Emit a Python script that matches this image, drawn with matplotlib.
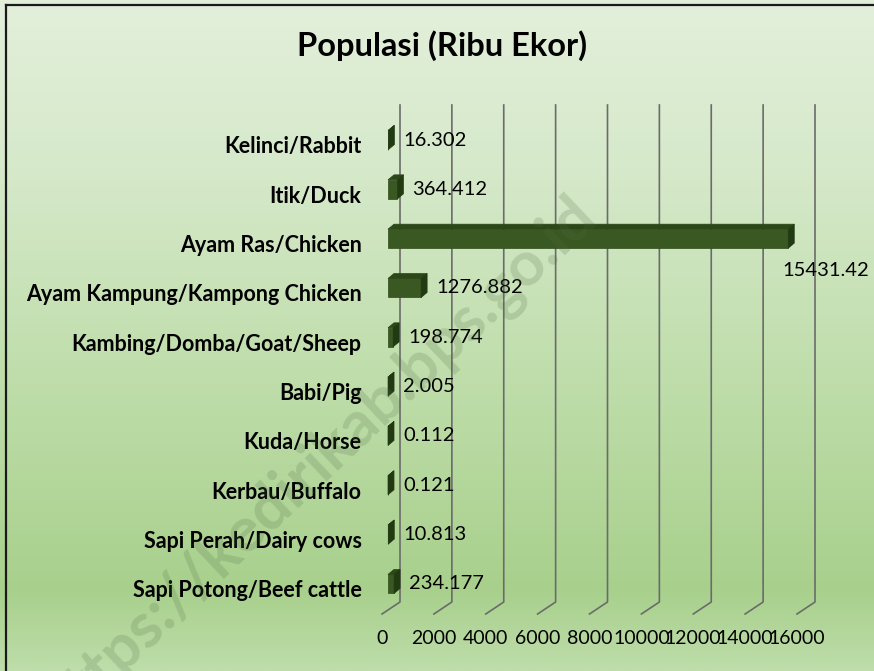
import numpy as np
import matplotlib.pyplot as plt
from matplotlib.patches import Polygon
from matplotlib.lines import Line2D
from matplotlib.transforms import IdentityTransform
from matplotlib.colors import LinearSegmentedColormap

# data, bottom to top as drawn
categories = ["Sapi Potong/Beef cattle", "Sapi Perah/Dairy cows", "Kerbau/Buffalo",
              "Kuda/Horse", "Babi/Pig", "Kambing/Domba/Goat/Sheep",
              "Ayam Kampung/Kampong Chicken", "Ayam Ras/Chicken", "Itik/Duck",
              "Kelinci/Rabbit"]
values = [234.177, 10.813, 0.121, 0.112, 2.005, 198.774, 1276.882, 15431.42,
          364.412, 16.302]
value_labels = ["234.177", "10.813", "0.121", "0.112", "2.005", "198.774",
                "1276.882", "15431.42", "364.412", "16.302"]
xticks = [0, 2000, 4000, 6000, 8000, 10000, 12000, 14000, 16000]

W, H = 874, 671
fig = plt.figure(figsize=(W / 100, H / 100), dpi=100)

# gradient background
bg = fig.add_axes([0, 0, 1, 1], zorder=-5)
stops = [(0.0, (227, 239, 219)), (0.25, (214, 233, 202)), (0.55, (192, 222, 172)),
         (0.88, (168, 208, 140)), (1.0, (190, 221, 170))]
cmap = LinearSegmentedColormap.from_list(
    "bg", [(p, tuple(c / 255 for c in rgb)) for p, rgb in stops])
bg.imshow(np.linspace(0, 1, 256).reshape(-1, 1), cmap=cmap, aspect="auto",
          extent=[0, 1, 0, 1], origin="upper")
bg.set_axis_off()

# black frame (top and left visible, rest cropped)
fig.add_artist(Line2D([6 / W, 6 / W], [0, 1 - 5 / H], color="#1a1a1a", lw=1.6))
fig.add_artist(Line2D([6 / W, 1], [1 - 5 / H, 1 - 5 / H], color="#1a1a1a", lw=1.6))

fig.text(442 / W, 1 - 46 / H, "Populasi (Ribu Ekor)", ha="center", va="center",
         fontsize=23.5, fontweight="bold", family="Lato")

# watermark
fig.text(318 / W, 1 - 462 / H, "https://kedirikab.bps.go.id", ha="center",
         va="center", rotation=43.5, fontsize=45, fontweight="bold",
         family="Lato", color="#4f6b45", alpha=0.2, zorder=0)

# main axes: x maps the front face of the bars
ax = fig.add_axes([388 / W, 1 - 614 / H, 415 / W, 509 / H])
ax.set_xlim(0, 16000)
ax.set_ylim(-0.51, 9.81)
ax.patch.set_alpha(0)
for s in ax.spines.values():
    s.set_visible(False)
ax.set_xticks([])
ax.set_yticks(range(len(categories)))
ax.set_yticklabels(categories, fontsize=15.5, fontweight="bold", family="Lato")
ax.tick_params(axis="y", length=0, pad=19)

ident = IdentityTransform()
y0 = ax.bbox.y0
y1 = ax.bbox.y1

def px(x, y):
    return ax.transData.transform((x, y))

# back wall grid lines with the floor slant
for t in xticks:
    bx = px(t, 0)[0]
    ax.add_line(Line2D([bx + 12, bx + 12, bx - 6], [y1, y0 + 12, y0],
                       transform=ident, color="#6b6b6b", lw=1.2, clip_on=False,
                       zorder=1))
    ax.text(bx - 6, y0 - 24, str(t), transform=ident, ha="center", va="center",
            fontsize=14, family="Lato", clip_on=False)

# 3d-looking bars
bar_h = 0.385
shift = 0.1
dx, dy = 6, 5
ax.barh([i + shift for i in range(len(values))], values, height=bar_h,
        color="#3a5922", edgecolor="#2f4a1b", lw=0.5, zorder=3)
for i, v in enumerate(values):
    xl, yb = px(0, i + shift - bar_h / 2)
    xr, yt = px(v, i + shift + bar_h / 2)
    top = [(xl, yt), (xr, yt), (xr + dx, yt + dy), (xl + dx, yt + dy)]
    side = [(xr, yb), (xr, yt), (xr + dx, yt + dy), (xr + dx, yb + dy)]
    ax.add_patch(Polygon(top, closed=True, transform=ident, fc="#2c4718",
                         ec="#2c4718", lw=0.5, zorder=4, clip_on=False))
    ax.add_patch(Polygon(side, closed=True, transform=ident, fc="#223a12",
                         ec="#223a12", lw=0.5, zorder=4, clip_on=False))
    yc = (yb + yt) / 2
    if v > 0.9 * max(values):
        ax.text(xr - 6, yc - 32, value_labels[i], transform=ident, ha="left",
                va="center", fontsize=14.5, family="Lato", clip_on=False, zorder=5)
    else:
        ax.text(xr + 15, yc, value_labels[i], transform=ident, ha="left",
                va="center", fontsize=14.5, family="Lato", clip_on=False, zorder=5)

fig.savefig("out.png", dpi=100)
